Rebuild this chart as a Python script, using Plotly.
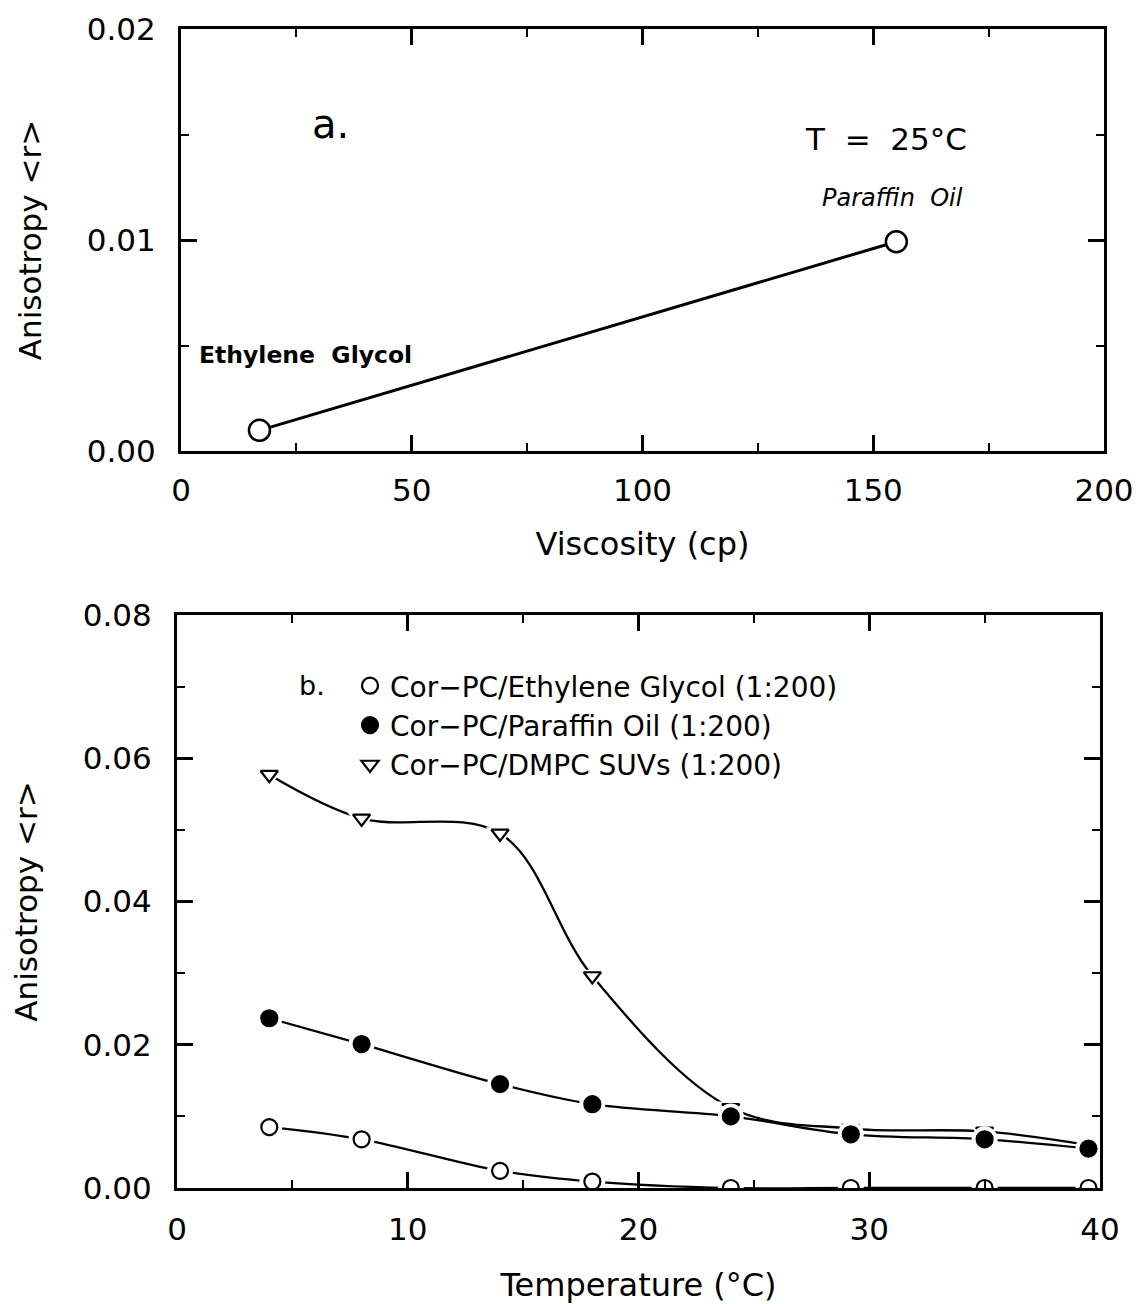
import plotly.graph_objects as go

# ---- Panel a data ----
visc = [17, 155]
visc_r = [0.00098, 0.00992]

# ---- Panel b data ----
temp = [4, 8, 14, 18, 24, 29.2, 35, 39.5]
eg_r = [0.0085, 0.0068, 0.0024, 0.0009, 0.0, 0.0, 0.0, 0.0]
po_r = [0.0237, 0.0201, 0.0145, 0.0117, 0.0100, 0.0075, 0.0068, 0.0055]
dmpc_r = [0.0577, 0.0516, 0.0495, 0.0296, 0.0112, 0.0083, 0.0079, 0.0060]

names = ["Cor\u2212PC/Ethylene Glycol (1:200)",
         "Cor\u2212PC/Paraffin Oil (1:200)",
         "Cor\u2212PC/DMPC SUVs (1:200)"]

FONT = "DejaVu Sans"
BLK = "black"

fig = go.Figure()

# Panel a
fig.add_trace(go.Scatter(x=visc, y=visc_r, mode="lines+markers",
                         line=dict(color=BLK, width=3),
                         marker=dict(symbol="circle", size=21, color="white",
                                     line=dict(color=BLK, width=2.5)),
                         showlegend=False, xaxis="x", yaxis="y"))

# Panel b lines
for ys in [eg_r, po_r, dmpc_r]:
    fig.add_trace(go.Scatter(x=temp, y=ys, mode="lines",
                             line=dict(color=BLK, width=2.3, shape="spline", smoothing=1.0),
                             showlegend=False, hoverinfo="skip",
                             xaxis="x2", yaxis="y2"))

series = [
    (eg_r, names[0], "circle", 16, "white"),
    (dmpc_r, names[2], "triangle-down", 15, "white"),
    (po_r, names[1], "circle", 16, BLK),
]
order_rank = {names[0]: 1, names[1]: 2, names[2]: 3}
for ys, nm, sym, sz, fill in series:
    # white halo to break the line near each symbol
    fig.add_trace(go.Scatter(x=temp, y=ys, mode="markers",
                             marker=dict(symbol=sym, size=sz + 10, color="white",
                                         line=dict(width=0)),
                             showlegend=False, hoverinfo="skip",
                             xaxis="x2", yaxis="y2"))
    fig.add_trace(go.Scatter(x=temp, y=ys, mode="markers", name=nm,
                             legendgroup=nm, legendrank=order_rank[nm],
                             marker=dict(symbol=sym, size=sz, color=fill,
                                         line=dict(color=BLK, width=2.2)),
                             xaxis="x2", yaxis="y2"))

L, R, T, B = 177, 34, 29, 116
W, H = 1138, 1304
pw = W - L - R
ph = H - T - B
top_bottom = (1188 - 451) / ph
bot_top = (1188 - 615) / ph

axis_common = dict(showline=True, linecolor=BLK, linewidth=3, mirror="ticks",
                   ticks="inside", ticklen=16, tickwidth=2.5, tickcolor=BLK,
                   showgrid=False, zeroline=False, automargin=False,
                   tickfont=dict(family=FONT, size=31, color=BLK))

fig.update_layout(
    width=W, height=H,
    margin=dict(l=L, r=R, t=T, b=B),
    paper_bgcolor="white", plot_bgcolor="white",
    xaxis=dict(domain=[4 / pw, 1], range=[0, 200], tick0=0, dtick=50,
               minor=dict(dtick=25, ticklen=8, tickwidth=2, ticks="inside", tickcolor=BLK),
               anchor="y", ticklabelstandoff=10,
               title=dict(text="Viscosity (cp)", standoff=26,
                          font=dict(family=FONT, size=32, color=BLK)),
               **axis_common),
    yaxis=dict(domain=[top_bottom, 1], range=[0, 0.02], tick0=0, dtick=0.01,
               tickformat=".2f",
               minor=dict(dtick=0.005, ticklen=8, tickwidth=2, ticks="inside", tickcolor=BLK),
               anchor="x", ticklabelstandoff=16,
               title=dict(text="Anisotropy &lt;r&gt;", standoff=36,
                          font=dict(family=FONT, size=31, color=BLK)),
               **axis_common),
    xaxis2=dict(domain=[0, (pw - 4) / pw], range=[0, 40], tick0=0, dtick=10,
                minor=dict(dtick=5, ticklen=8, tickwidth=2, ticks="inside", tickcolor=BLK),
                anchor="y2", ticklabelstandoff=12,
                title=dict(text="Temperature (\u00b0C)", standoff=30,
                           font=dict(family=FONT, size=32, color=BLK)),
                **axis_common),
    yaxis2=dict(domain=[0, bot_top], range=[0, 0.08], tick0=0, dtick=0.02,
                tickformat=".2f",
                minor=dict(dtick=0.01, ticklen=8, tickwidth=2, ticks="inside", tickcolor=BLK),
                anchor="x2", ticklabelstandoff=16,
                title=dict(text="Anisotropy &lt;r&gt;", standoff=36,
                           font=dict(family=FONT, size=31, color=BLK)),
                **axis_common),
    legend=dict(x=(350 - L) / pw, y=(1188 - 661) / ph, xanchor="left", yanchor="top",
                bgcolor="rgba(0,0,0,0)", borderwidth=0, tracegroupgap=0,
                font=dict(family=FONT, size=28, color=BLK),
                itemsizing="trace"),
    showlegend=True,
)

ann_font = dict(family=FONT, color=BLK)
fig.add_annotation(x=32.3, y=0.0155, xref="x", yref="y", text="a.", showarrow=False,
                   font=dict(size=40, **ann_font))
fig.add_annotation(x=152.7, y=0.0148, xref="x", yref="y", text="T  =  25\u00b0C", showarrow=False,
                   font=dict(size=31, **ann_font))
fig.add_annotation(x=154.2, y=0.0120, xref="x", yref="y", text="<i>Paraffin  Oil</i>", showarrow=False,
                   font=dict(size=24, **ann_font))
fig.add_annotation(x=3.5, y=0.00454, xref="x", yref="y", xanchor="left",
                   text="<b>Ethylene  Glycol</b>", showarrow=False,
                   font=dict(size=23.5, **ann_font))
fig.add_annotation(x=5.85, y=0.0701, xref="x2", yref="y2", text="b.", showarrow=False,
                   font=dict(size=27, **ann_font))

fig.write_html("out.html")
